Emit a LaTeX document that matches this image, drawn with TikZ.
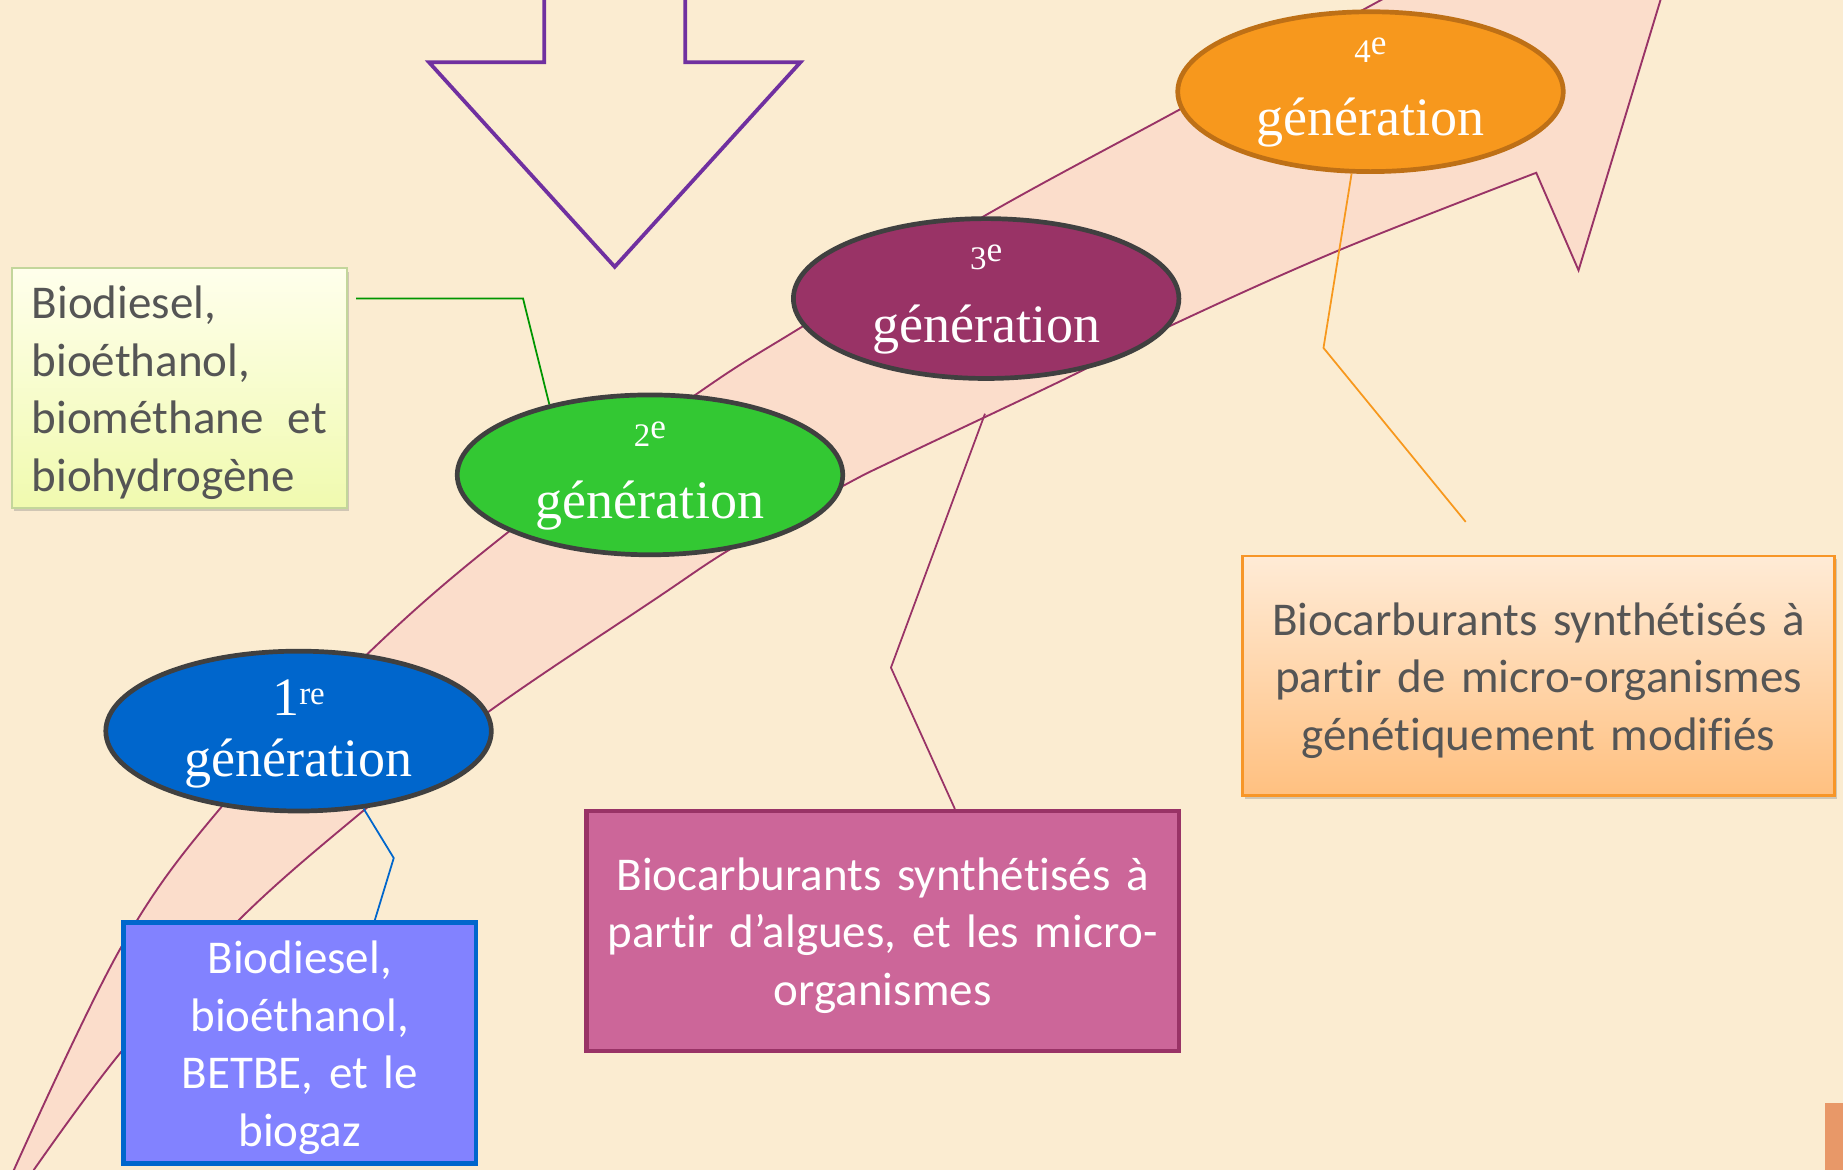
\documentclass[tikz,border=0pt]{standalone}
\usepackage{fontspec}
\setmainfont[Ligatures=NoCommon]{Carlito}
\newfontfamily\genfont{Liberation Serif}
\usetikzlibrary{shapes.geometric,calc,shadows}
\definecolor{bgc}{RGB}{251,236,209}
\definecolor{arrowfill}{RGB}{251,221,203}
\definecolor{arrowline}{RGB}{153,51,102}
\definecolor{purplec}{RGB}{112,48,160}
\definecolor{ellline}{RGB}{64,64,64}
\definecolor{eonec}{RGB}{0,102,204}
\definecolor{etwoc}{RGB}{51,200,51}
\definecolor{ethreec}{RGB}{153,51,102}
\definecolor{efourc}{RGB}{247,152,29}
\definecolor{efourline}{RGB}{190,112,22}
\definecolor{boxafill}{RGB}{130,130,255}
\definecolor{boxcfill}{RGB}{204,102,153}
\definecolor{boxbtop}{RGB}{255,255,236}
\definecolor{boxbbot}{RGB}{240,250,175}
\definecolor{boxbline}{RGB}{195,214,155}
\definecolor{boxdtop}{RGB}{255,235,214}
\definecolor{boxdbot}{RGB}{255,192,128}
\definecolor{boxdline}{RGB}{247,150,40}
\definecolor{textgray}{RGB}{85,85,85}
\definecolor{greenc}{RGB}{0,150,0}
\definecolor{cornerc}{RGB}{232,152,104}
\tikzset{
  genell/.style={ellipse, line width=2pt, minimum width=164pt, minimum height=68pt, inner sep=0pt},
  gentext/.style={text=white, font=\genfont\fontsize{23}{27}\selectfont, anchor=base, inner sep=0pt},
  infobox/.style={rectangle, inner sep=0pt},
  infotext/.style={inner sep=0pt, align=center, font=\fontsize{20}{24.5}\selectfont},
  link/.style={line width=0.75pt},
}
\newcommand{\gdig}[1]{{\fontsize{14}{14}\selectfont #1}\raisebox{3.4pt}{\fontsize{15}{15}\selectfont e}}
\begin{document}
\begin{tikzpicture}[x=0.5pt,y=-0.5pt]
\fill[bgc] (0,0) rectangle (1568,995);
\useasboundingbox (0,0) rectangle (1568,995);
\begin{scope}
\clip (0,0) rectangle (1568,995);
\filldraw[fill=arrowfill, draw=arrowline, line width=0.8pt, line join=miter]
  plot[smooth, tension=0.6] coordinates {(12,995) (103,806) (188,687) (313,556) (432,453) (593,335) (684,277) (837,184) (1004,93) (1175,0) (1260,-46)}
  -- (1230,-130) -- (1440,-90) -- (1343,230) -- (1307,147)
  -- plot[smooth, tension=0.6] coordinates {(1307,147) (1139,213) (994,278) (909,321) (766,389) (718,413) (625,465) (557,510) (415,606) (310,689) (203,783) (103,895) (29,995)}
  -- (22,1010) -- (5,1010) -- cycle;
\draw[purplec, line width=1.6pt, line join=miter] (463,-10) -- (463,53) -- (365,53) -- (523,227) -- (681,53) -- (583,53) -- (583,-10);
\end{scope}

% ellipses
\node[genell, fill=eonec, draw=ellline] (e1) at (254,622) {};
\node[genell, fill=etwoc, draw=ellline] (e2) at (553,404) {};
\node[genell, fill=ethreec, draw=ellline] (e3) at (839,254) {};
\node[genell, fill=efourc, draw=efourline] (e4) at (1166,78) {};

\node[gentext] (e1a) at ($(e1.center)+(0,-13)$) {1\raisebox{4.8pt}{\fontsize{14}{14}\selectfont re}};
\node[gentext] (e1b) at ($(e1.center)+(0,39)$) {génération};
\node[gentext] (e2a) at ($(e2.center)+(0,-24.5)$) {\gdig{2}};
\node[gentext] (e2b) at ($(e2.center)+(0,37)$) {génération};
\node[gentext] (e3a) at ($(e3.center)+(0,-24.5)$) {\gdig{3}};
\node[gentext] (e3b) at ($(e3.center)+(0,37)$) {génération};
\node[gentext] (e4a) at ($(e4.center)+(0,-24.5)$) {\gdig{4}};
\node[gentext] (e4b) at ($(e4.center)+(0,37)$) {génération};

% boxes
\node[infobox, fill=boxafill, draw=eonec, line width=2pt, minimum width=150pt, minimum height=102.5pt] (b1) at (255,887.5) {};
\node[infotext, text width=145pt, text=white] (b1t) at ($(b1.center)+(0,4)$) {Biodiesel,\\ bioéthanol,\\ BETBE, et le\\ biogaz};
\node[infobox, top color=boxbtop, bottom color=boxbbot, draw=boxbline, line width=0.9pt, drop shadow={shadow xshift=1pt, shadow yshift=-1.5pt, opacity=0.35}, minimum width=142.5pt, minimum height=102pt] (b2) at (152.5,330) {};
\node[infotext, align=left, text width=125.5pt, text=textgray] (b2t) at ($(b2.center)+(0,4)$) {Biodiesel,\\ bioéthanol,\\ biométhane\hfill et\\ biohydrogène};
\node[infobox, fill=boxcfill, draw=ethreec, line width=1.75pt, minimum width=252pt, minimum height=102pt] (b3) at (751,792) {};
\node[infotext, text width=245pt, text=white] (b3t) at ($(b3.center)+(0,4)$) {Biocarburants synthétisés à\\ partir d’algues, et les micro-\\ organismes};
\node[infobox, top color=boxdtop, bottom color=boxdbot, draw=boxdline, line width=1.2pt, drop shadow={shadow xshift=1pt, shadow yshift=-1.5pt, opacity=0.35}, minimum width=252pt, minimum height=102pt] (b4) at (1309,575) {};
\node[infotext, text width=245pt, text=textgray] (b4t) at ($(b4.center)+(0,4)$) {Biocarburants synthétisés à\\ partir de micro-organismes\\ génétiquement modifiés};

% connectors
\draw[link, eonec] (e1.-50) -- (335,730) -- ($(b1.north west)!0.71!(b1.north east)$);
\coordinate (c2s) at (303,254);
\draw[link, greenc] (c2s) -- (445,254) -- (e2.145);
\coordinate (c3s) at (838,352);
\draw[link, ethreec] (c3s) -- (758,568) -- ($(b3.north west)!0.621!(b3.north east)$);
\coordinate (c4e) at (1247,444);
\draw[link, efourc] (e4.-103) -- (1126,296) -- (c4e);

\fill[cornerc] (1553,938) rectangle (1568,995);
\end{tikzpicture}
\end{document}
